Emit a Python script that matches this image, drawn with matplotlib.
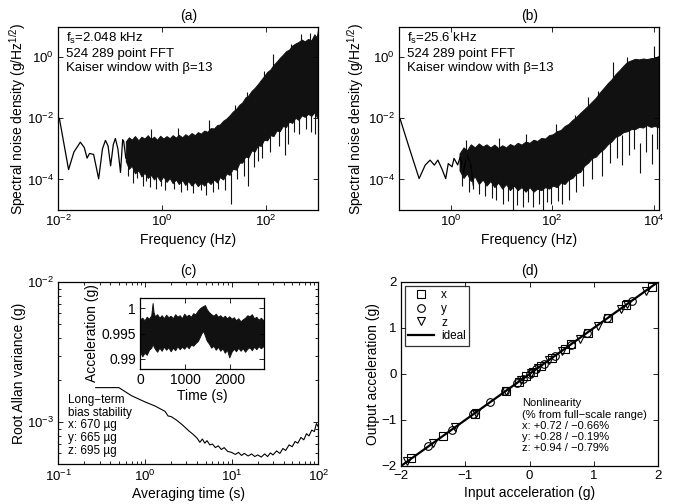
"""
Accelerometer characterisation figure (a)-(d)
"""
import numpy as np
import matplotlib
matplotlib.use('Agg')
import matplotlib.pyplot as plt
from matplotlib.ticker import NullFormatter

plt.rcParams['font.family'] = ['Liberation Sans', 'DejaVu Sans']
plt.rcParams['mathtext.fontset'] = 'custom'
plt.rcParams['mathtext.rm'] = 'Liberation Sans'
plt.rcParams['mathtext.it'] = 'Liberation Sans:italic'
plt.rcParams['mathtext.default'] = 'regular'

# ---- (a) fs = 2.048 kHz spectrum (values of log10 density for the dense band) ----
a_line_f = [0.0105, 0.0158, 0.020, 0.0266, 0.0316, 0.0359, 0.040, 0.048, 0.060,
            0.071, 0.081, 0.091, 0.102, 0.115, 0.126, 0.141, 0.158, 0.174, 0.182, 0.20]
a_line_s = [1.0e-2, 2.1e-4, 7.9e-4, 1.66e-3, 1.12e-3, 5.0e-4, 7.1e-4, 6.6e-4, 1.05e-4,
            1.0e-3, 1.9e-3, 1.26e-3, 2.8e-4, 1.4e-3, 2.2e-3, 1.0e-3, 1.7e-4, 2.0e-3, 1.8e-3, 5e-4]
a_band_f = [0.20, 0.23, 0.26, 0.30, 0.35, 0.40, 0.46, 0.53, 0.61,
            0.70, 0.80, 0.92, 1.06, 1.22, 1.4, 1.6, 1.85, 2.1,
            2.45, 2.8, 3.2, 3.7, 4.3, 4.9, 5.6, 6.5, 7.5,
            8.6, 10, 11.5, 13, 15, 17.5, 20, 23, 27,
            31, 35, 40, 46, 53, 61, 70, 80, 92,
            106, 122, 140, 160, 185, 212, 245, 280, 320,
            370, 425, 490, 560, 650, 750, 860, 950, 1024]
a_band_hi = [-2.75, -2.62, -2.70, -2.58, -2.72, -2.60, -2.66, -2.55, -2.68,
             -2.60, -2.70, -2.57, -2.66, -2.58, -2.65, -2.55, -2.63, -2.54,
             -2.62, -2.52, -2.58, -2.48, -2.55, -2.45, -2.50, -2.40, -2.44,
             -2.32, -2.33, -2.22, -2.20, -2.08, -2.00, -1.90, -1.78, -1.68,
             -1.55, -1.48, -1.32, -1.25, -1.10, -1.00, -0.88, -0.75, -0.62,
             -0.48, -0.40, -0.25, -0.15, -0.02, 0.08, 0.20, 0.25, 0.38,
             0.45, 0.50, 0.58, 0.52, 0.60, 0.55, 0.75, 0.65, 0.95]
a_band_lo = [-3.40, -3.65, -3.55, -3.80, -3.70, -3.90, -3.78, -3.95, -3.85,
             -4.00, -3.88, -4.05, -3.90, -4.08, -3.95, -4.12, -4.00, -4.15,
             -4.02, -4.18, -4.05, -4.20, -4.08, -4.22, -4.10, -4.20, -4.05,
             -4.15, -4.00, -4.10, -3.92, -4.00, -3.80, -3.85, -3.65, -3.68,
             -3.45, -3.45, -3.25, -3.28, -3.05, -3.08, -2.88, -2.90, -2.70,
             -2.72, -2.55, -2.58, -2.40, -2.42, -2.25, -2.28, -2.10, -2.15,
             -1.98, -2.05, -1.90, -1.95, -1.85, -1.92, -1.80, -1.95, -2.00]
a_dn_f = [0.22, 0.27, 0.33, 0.42, 0.5, 0.58, 0.75, 0.95, 1.15, 1.7, 2.3, 3.0, 4.0, 5.6,
          7.0, 9.5, 12, 16, 21, 28, 38, 45, 58, 69, 85, 120, 180, 229, 263, 350, 437,
          600, 741, 900]
a_dn_s = [-3.9, -4.1, -3.95, -4.2, -4.05, -4.25, -4.3, -4.2, -4.35, -4.3, -4.4, -4.35,
          -4.45, -4.35, -4.5, -4.4, -4.3, -4.35, -4.79, -3.98, -3.9, -4.2, -3.6, -3.38,
          -3.3, -3.1, -2.9, -3.2, -2.83, -2.45, -2.5, -2.35, -2.43, -2.5]
a_up_f = [0.6, 2.0, 8, 25, 44, 90, 138, 300, 480, 700, 1000]
a_up_s = [-2.35, -2.3, -2.05, -1.55, -1.15, -0.45, 0.11, 0.45, 0.75, 0.8, 1.0]

# ---- (b) fs = 25.6 kHz spectrum ----
b_line_f = [0.101, 0.148, 0.240, 0.316, 0.394, 0.479, 0.562, 0.668, 0.802, 0.90,
            1.07, 1.17, 1.38, 1.55, 1.78, 2.1, 2.5, 2.8]
b_line_s = [9.8e-3, 1.3e-3, 1.07e-4, 2.95e-4, 4.3e-4, 2.95e-4, 4.3e-4, 2.3e-4, 1.07e-4,
            3.3e-4, 2.6e-4, 4.9e-4, 3.0e-4, 5.5e-4, 1.6e-4, 6.3e-4, 3.0e-4, 6.5e-5]
b_band_f = [1.5, 1.8, 2.1, 2.5, 3.0, 3.6, 4.3, 5.1, 6.1,
            7.3, 8.7, 10.4, 12.4, 14.8, 17.7, 21, 25, 30,
            36, 43, 51, 61, 73, 87, 104, 124, 148,
            177, 211, 252, 301, 360, 430, 513, 613, 732,
            874, 1044, 1247, 1490, 1780, 2126, 2540, 3034, 3624,
            4329, 5170, 6176, 7377, 8812, 10526, 12800]
b_band_hi = [-3.15, -2.95, -3.05, -2.85, -2.95, -2.82, -2.92, -2.85, -2.95,
             -2.86, -2.97, -2.88, -2.95, -2.84, -2.90, -2.80, -2.86, -2.76,
             -2.80, -2.70, -2.74, -2.64, -2.66, -2.55, -2.52, -2.42, -2.38,
             -2.25, -2.18, -2.05, -1.95, -1.82, -1.70, -1.58, -1.45, -1.32,
             -1.15, -1.00, -0.85, -0.72, -0.55, -0.42, -0.28, -0.15, -0.10,
             -0.05, -0.07, -0.04, -0.06, -0.03, -0.02, 0.05]
b_band_lo = [-3.70, -3.95, -3.80, -4.05, -3.90, -4.15, -4.00, -4.20, -4.05,
             -4.25, -4.10, -4.30, -4.15, -4.35, -4.20, -4.35, -4.25, -4.40,
             -4.25, -4.40, -4.30, -4.35, -4.25, -4.30, -4.20, -4.25, -4.10,
             -4.15, -4.00, -3.95, -3.80, -3.75, -3.55, -3.45, -3.30, -3.25,
             -3.10, -3.00, -2.85, -2.75, -2.60, -2.55, -2.45, -2.42, -2.35,
             -2.35, -2.28, -2.30, -2.22, -2.28, -2.25, -2.30]
b_dn_f = [1.7, 2.3, 2.8, 3.7, 4.8, 6.5, 8, 11, 13.5, 16.6, 20, 27, 33, 42, 55, 66, 80,
          95, 130, 160, 219, 290, 400, 600, 955, 1380, 1900, 2350, 3300, 4200, 5400,
          7000, 9100, 11500]
b_dn_s = [-4.2, -4.4, -4.3, -4.46, -4.55, -4.6, -4.67, -4.8, -4.7, -5.1, -4.85, -4.9,
          -4.75, -4.9, -4.8, -5.1, -4.75, -4.8, -4.7, -4.8, -4.67, -4.4, -4.2, -4.0,
          -3.9, -3.45, -3.3, -3.53, -3.2, -3.0, -3.8, -3.1, -3.5, -3.0]
b_up_f = [2.0, 9, 30, 120, 282, 500, 790, 1100, 1620, 3000, 10000, 12500]
b_up_s = [-2.7, -2.65, -2.5, -2.2, -1.9, -1.3, -1.09, -1.25, -0.16, 0.0, 0.38, 1.0]

# ---- (c) Allan deviation ----
tau = [0.27, 0.5, 0.7, 1.0, 1.3, 1.5, 1.7, 1.85, 2.0, 2.3, 2.7, 3.2, 3.6, 4.0, 4.3, 4.6,
       4.9, 5.2, 5.6, 6.0, 6.5, 7.0, 7.6, 8.2, 9.0, 10, 11, 12, 13, 14, 15.5, 17, 18.5,
       20, 22, 24, 26, 28, 30, 33, 36, 39, 42, 46, 50, 54, 58, 63, 68, 73, 78, 84, 90,
       95, 100]
adev = [17.7, 17.7, 15.5, 14.0, 13.1, 12.5, 12.0, 11.1, 11.0, 10.4, 9.6, 8.7, 8.2, 7.7,
        7.2, 7.6, 7.1, 7.4, 6.9, 7.0, 6.6, 6.8, 6.4, 6.6, 6.2, 6.1, 5.9, 6.1, 5.8, 6.0,
        5.75, 5.95, 5.7, 5.85, 5.65, 5.95, 5.7, 6.05, 5.85, 6.25, 6.0, 6.5, 6.3, 6.9, 6.7,
        7.3, 7.1, 7.8, 7.5, 8.3, 8.0, 8.8, 8.6, 9.8, 9.3]  # x 1e-4 g

# inset: raw acceleration record (upper / lower edge of the noise band)
t_env = [0, 50, 100, 150, 200, 250, 280, 300, 330, 380, 430, 480, 530, 580, 630, 680,
         730, 780, 830, 880, 930, 980, 1030, 1080, 1130, 1180, 1230, 1280, 1320, 1360,
         1400, 1440, 1480, 1530, 1580, 1630, 1680, 1730, 1780, 1830, 1880, 1930, 1980,
         2030, 2080, 2130, 2180, 2230, 2280, 2330, 2380, 2430, 2480, 2530, 2580, 2630,
         2680, 2750]
acc_hi = [0.9978, 0.9981, 0.9976, 0.9983, 0.9979, 0.9986, 1.0010, 0.9992, 0.9984, 0.9988,
          0.9981, 0.9986, 0.9980, 0.9987, 0.9982, 0.9985, 0.9980, 0.9988, 0.9983, 0.9986,
          0.9980, 0.9989, 0.9984, 0.9987, 0.9983, 0.9990, 0.9988, 0.9995, 0.9999, 1.0002,
          1.0004, 1.0006, 0.9998, 0.9992, 0.9988, 0.9985, 0.9989, 0.9983, 0.9986, 0.9981,
          0.9985, 0.9980, 0.9984, 0.9979, 0.9982, 0.9976, 0.9980, 0.9974, 0.9978, 0.9981,
          0.9986, 0.9984, 0.9988, 0.9980, 0.9983, 0.9977, 0.9981, 0.9975]
acc_lo = [0.9915, 0.9905, 0.9912, 0.9908, 0.9918, 0.9922, 0.9930, 0.9925, 0.9920, 0.9914,
          0.9922, 0.9916, 0.9924, 0.9918, 0.9923, 0.9915, 0.9922, 0.9917, 0.9925, 0.9919,
          0.9924, 0.9920, 0.9926, 0.9921, 0.9928, 0.9926, 0.9931, 0.9935, 0.9942, 0.9950,
          0.9955, 0.9946, 0.9936, 0.9930, 0.9922, 0.9926, 0.9918, 0.9924, 0.9916, 0.9921,
          0.9912, 0.9918, 0.9903, 0.9914, 0.9920, 0.9915, 0.9922, 0.9916, 0.9921, 0.9914,
          0.9920, 0.9923, 0.9917, 0.9924, 0.9919, 0.9925, 0.9921, 0.9926]

# ---- (d) linearity ----
x_in = [-1.84, -1.35, -0.85, -0.36, -0.17, -0.05, 0.05, 0.18, 0.35, 0.55, 0.65, 0.91, 1.22, 1.50, 1.90]
x_out = [-1.83, -1.34, -0.86, -0.37, -0.18, -0.05, 0.05, 0.18, 0.34, 0.55, 0.66, 0.90, 1.21, 1.50, 1.89]
y_in = [-1.58, -1.21, -0.88, -0.61, -0.38, -0.20, -0.10, 0.0, 0.10, 0.22, 0.40, 0.65, 0.90, 1.21, 1.60]
y_out = [-1.57, -1.21, -0.87, -0.61, -0.38, -0.20, -0.10, 0.0, 0.10, 0.22, 0.40, 0.64, 0.90, 1.21, 1.59]
z_in = [-1.90, -1.50, -1.16, -0.84, -0.36, -0.13, 0.03, 0.14, 0.31, 0.50, 0.78, 1.06, 1.42, 1.52, 1.82]
z_out = [-1.89, -1.49, -1.15, -0.85, -0.37, -0.13, 0.03, 0.14, 0.30, 0.51, 0.77, 1.05, 1.41, 1.52, 1.81]
ideal = [-2, 2]

INK = '#111111'


def style_axes(ax, minor=False, size=9.5):
    ax.tick_params(which='both', direction='in', top=True, right=True, labelsize=size,
                   width=0.6, pad=3)
    ax.tick_params(which='major', length=3.5)
    ax.tick_params(which='minor', length=2)
    if not minor:
        ax.minorticks_off()
    for s in ax.spines.values():
        s.set_linewidth(0.9)


def draw_spectrum(ax, lf, ls, bf, bhi, blo, df, ds, uf, us):
    ax.plot(lf, ls, color='k', lw=0.9)
    ax.fill_between(bf, 10.0 ** np.array(bhi), 10.0 ** np.array(blo),
                    color=INK, lw=0.7, edgecolor=INK)
    # thin spikes sticking out of the dense band
    ds = np.array(ds)
    ax.vlines(df, 10.0 ** ds, 10.0 ** (ds + 1.0), color=INK, lw=0.8)
    us = np.array(us)
    ax.vlines(uf, 10.0 ** (us - 1.0), 10.0 ** us, color=INK, lw=0.8)
    ax.set_xscale('log')
    ax.set_yscale('log')
    ax.set_ylim(1e-5, 1e1)
    ax.set_yticks([1e-4, 1e-2, 1e0])
    ax.set_xlabel('Frequency (Hz)', fontsize=10, labelpad=2.5)
    ax.set_ylabel('Spectral noise density (g/Hz$^{1/2}$)', fontsize=10)


fig = plt.figure(figsize=(6.76, 5.04), dpi=100)

# (a)
ax1 = fig.add_axes([0.0862, 0.5833, 0.3847, 0.3637])
draw_spectrum(ax1, a_line_f, a_line_s, a_band_f, a_band_hi, a_band_lo,
              a_dn_f, a_dn_s, a_up_f, a_up_s)
ax1.set_xlim(0.01, 1024)
ax1.set_xticks([1e-2, 1e0, 1e2])
style_axes(ax1)
ax1.yaxis.set_label_coords(-0.118, 0.5)
ax1.set_title('(a)', fontsize=10, pad=5)
ax1.text(0.03, 0.975, 'f$_s$=2.048 kHz\n524 289 point FFT\nKaiser window with \u03b2=13',
         transform=ax1.transAxes, ha='left', va='top', fontsize=9.5, linespacing=1.2)

# (b)
ax2 = fig.add_axes([0.5907, 0.5833, 0.3842, 0.3637])
draw_spectrum(ax2, b_line_f, b_line_s, b_band_f, b_band_hi, b_band_lo,
              b_dn_f, b_dn_s, b_up_f, b_up_s)
ax2.set_xlim(0.0977, 12800)
ax2.set_xticks([1e0, 1e2, 1e4])
style_axes(ax2)
ax2.yaxis.set_label_coords(-0.13, 0.5)
ax2.set_title('(b)', fontsize=10, pad=5)
ax2.text(0.03, 0.975, 'f$_s$=25.6 kHz\n524 289 point FFT\nKaiser window with \u03b2=13',
         transform=ax2.transAxes, ha='left', va='top', fontsize=9.5, linespacing=1.2)

# (c)
ax3 = fig.add_axes([0.0862, 0.0784, 0.3847, 0.3614])
ax3.plot(tau, np.array(adev) * 1e-4, color='k', lw=0.8)
ax3.set_xscale('log')
ax3.set_yscale('log')
ax3.set_xlim(0.1, 100)
ax3.set_ylim(5e-4, 1e-2)
ax3.set_yticks([1e-3, 1e-2])
style_axes(ax3, minor=True)
ax3.yaxis.set_minor_formatter(NullFormatter())
ax3.set_xlabel('Averaging time (s)', fontsize=10, labelpad=2.5)
ax3.set_ylabel('Root Allan variance (g)', fontsize=10)
ax3.yaxis.set_label_coords(-0.125, 0.5)
ax3.set_title('(c)', fontsize=10, pad=5)
ax3.text(0.038, 0.04, 'Long\u2212term\nbias stability\nx: 670 \u00b5g\ny: 665 \u00b5g\nz: 695 \u00b5g',
         transform=ax3.transAxes, ha='left', va='bottom', fontsize=8.5, linespacing=1.1)

axin = fig.add_axes([140 / 676, 1 - 369 / 504, 124 / 676, 71 / 504])
axin.fill_between(t_env, acc_hi, acc_lo, color=INK, lw=0.7, edgecolor=INK)
axin.set_xlim(0, 2750)
axin.set_ylim(0.988, 1.002)
axin.set_yticks([0.99, 0.995, 1.0])
axin.set_yticklabels(['0.99', '0.995', '1'])
axin.set_xticks([0, 1000, 2000])
style_axes(axin, size=10)
axin.set_xlabel('Time (s)', fontsize=10, labelpad=1)
axin.set_ylabel('Acceleration (g)', fontsize=10, labelpad=2)

# (d)
ax4 = fig.add_axes([401 / 676, 1 - 466 / 504, 257 / 676, 184 / 504])
mk = dict(ls='none', mfc='none', mec='k', mew=0.8, ms=5.5)
ax4.plot(x_in, x_out, marker='s', label='x', **mk)
ax4.plot(y_in, y_out, marker='o', label='y', **mk)
ax4.plot(z_in, z_out, marker='v', label='z', **mk)
ax4.plot(ideal, ideal, color='k', lw=1.6, label='ideal')
ax4.set_xlim(-2, 2)
ax4.set_ylim(-2, 2)
ax4.set_xticks([-2, -1, 0, 1, 2])
ax4.set_yticks([-2, -1, 0, 1, 2])
style_axes(ax4)
ax4.set_xlabel('Input acceleration (g)', fontsize=10, labelpad=2.5)
ax4.set_ylabel('Output acceleration (g)', fontsize=10)
ax4.yaxis.set_label_coords(-0.08, 0.5)
ax4.set_title('(d)', fontsize=10, pad=5)
leg = ax4.legend(loc='upper left', fontsize=8.5, frameon=True, fancybox=False,
                 edgecolor='k', handlelength=2.2, handletextpad=0.6, borderpad=0.3,
                 labelspacing=0.15, borderaxespad=0.3)
leg.get_frame().set_linewidth(0.9)
ax4.text(0.47, 0.07, 'Nonlinearity\n(% from full\u2212scale range)\nx: +0.72 / \u22120.66%\n'
         'y: +0.28 / \u22120.19%\nz: +0.94 / \u22120.79%',
         transform=ax4.transAxes, ha='left', va='bottom', fontsize=8, linespacing=1.15)

fig.savefig('out.png', dpi=100)
